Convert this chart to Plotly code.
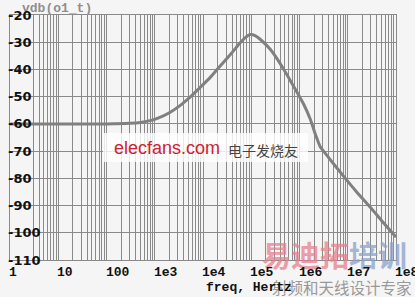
import math
import plotly.graph_objects as go

# ---- data ----
freq = [1, 10, 100, 300, 500, 800, 1.2e3, 2.1e3, 3.5e3, 5.4e3, 8.5e3, 1.4e4, 2.2e4,
        3.7e4, 5.9e4, 7.5e4, 9.5e4, 1.2e5, 1.55e5, 2.5e5, 4.7e5, 8.9e5, 1.2e6,
        1.66e6, 2.2e6, 2.7e6, 3.1e6, 4.5e6, 8e6, 1.5e7, 3e7, 5e7, 1e8]
vdb = [-60, -60, -60, -59.8, -59.5, -58.8, -57.8, -55.7, -53.0, -50.2, -46.8, -43.0, -39.0,
       -34.5, -30.2, -28.3, -27.2, -27.6, -29.0, -32.7, -39.9, -48.4, -52.5,
       -58.1, -64.5, -68.5, -69.8, -73.5, -79.0, -84.8, -90.8, -95.5, -101.6]

x_tick_vals = [1, 10, 100, 1e3, 1e4, 1e5, 1e6, 1e7, 1e8]
x_tick_text = ["1", "10", "100", "1e3", "1e4", "1e5", "1e6", "1e7", "1e8"]
y_tick_vals = [-20, -30, -40, -50, -60, -70, -80, -90, -100, -110]
y_tick_text = ["-20", "-30", "-40", "-50", "-60", "-70", "-80", "-90", "-100", "-110"]

# vertical grid positions (1..9 per decade; the "2" line of the first decade is absent in the reference)
grid_x = [k * 10 ** d for d in range(8) for k in range(1, 10) if not (d == 0 and k == 2)] + [1e8]

GRID = "#8a8a8a"
BG = "#f5f5f5"

fig = go.Figure()
fig.add_trace(go.Scatter(x=freq, y=vdb, mode="lines",
                         line=dict(color="#808080", width=3, shape="spline", smoothing=0.6),
                         hoverinfo="skip", showlegend=False))

fig.update_layout(
    width=415, height=297,
    margin=dict(l=10, r=19, t=15, b=37),
    paper_bgcolor=BG, plot_bgcolor=BG,
    showlegend=False,
    xaxis=dict(type="log", range=[0, 8], tickmode="array", tickvals=grid_x,
               showticklabels=False, ticks="", showgrid=True, gridcolor=GRID, gridwidth=1,
               showline=True, linecolor=GRID, linewidth=1, mirror=True, zeroline=False),
    yaxis=dict(range=[-110, -20], tickmode="array", tickvals=y_tick_vals,
               showticklabels=False, ticks="", showgrid=True, gridcolor=GRID, gridwidth=1,
               showline=True, linecolor=GRID, linewidth=1, mirror=True, zeroline=False),
)

# watermark box + texts (drawn first so labels sit on top)
fig.add_shape(type="rect", xref="paper", yref="paper",
              x0=(103 - 10) / 386, x1=(308 - 10) / 386,
              y0=(260 - 162) / 245, y1=(260 - 133) / 245,
              fillcolor="rgba(255,255,255,0.8)", line=dict(width=0), layer="above")

annos = []
annos.append(dict(xref="paper", yref="paper", x=(112 - 10) / 386, y=(260 - 148) / 245,
                  xanchor="left", yanchor="middle", showarrow=False,
                  text="elecfans.com", font=dict(family="Liberation Sans", size=18, color="#cc2233")))
annos.append(dict(xref="paper", yref="paper", x=(226 - 10) / 386, y=(260 - 150) / 245,
                  xanchor="left", yanchor="middle", showarrow=False,
                  text="电子发烧友", font=dict(family="Noto Sans CJK SC", size=14, color="#444444")))
annos.append(dict(xref="paper", yref="paper", x=(260 - 10) / 386, y=(260 - 254) / 245,
                  xanchor="left", yanchor="middle", showarrow=False, opacity=0.75,
                  text="<b><span style='color:#e6808c'>易迪拓</span><span style='color:#8aa2c8'>培训</span></b>",
                  font=dict(family="Noto Sans CJK SC", size=29, color="#e6808c")))
annos.append(dict(xref="paper", yref="paper", x=(270 - 10) / 386, y=(260 - 287) / 245,
                  xanchor="left", yanchor="middle", showarrow=False,
                  text="射频和天线设计专家", font=dict(family="Noto Sans CJK SC", size=15.5, color="#999999")))

# header
annos.append(dict(xref="paper", yref="paper", x=(20 - 10) / 386, y=1, yshift=7,
                  xanchor="left", yanchor="middle", showarrow=False,
                  text="<b>vdb(o1_t)</b>", font=dict(family="Liberation Mono", size=13, color="#8f8f8f")))

# y tick labels (left-aligned, inside the plot)
for v, t in zip(y_tick_vals, y_tick_text):
    annos.append(dict(xref="paper", yref="y", x=0, y=v, xanchor="left", yanchor="middle",
                      xshift=-3, showarrow=False, borderpad=0,
                      text="<b>" + t + "</b>", font=dict(family="DejaVu Sans", size=13, color="#111111")))

# x tick labels (left-aligned at the tick)
for v, t in zip(x_tick_vals, x_tick_text):
    annos.append(dict(xref="x", yref="paper", x=math.log10(v), y=0, xanchor="left", yanchor="top",
                      xshift=-2, yshift=-4, showarrow=False, borderpad=0,
                      text="<b>" + t + "</b>", font=dict(family="Liberation Mono", size=13, color="#111111")))

# x axis title
annos.append(dict(xref="paper", yref="paper", x=(204 - 10) / 386, y=(260 - 287) / 245,
                  xanchor="left", yanchor="middle", showarrow=False,
                  text="<b>freq, Hertz</b>", font=dict(family="Liberation Mono", size=13, color="#111111")))

fig.update_layout(annotations=annos)
fig.write_html("out.html")
